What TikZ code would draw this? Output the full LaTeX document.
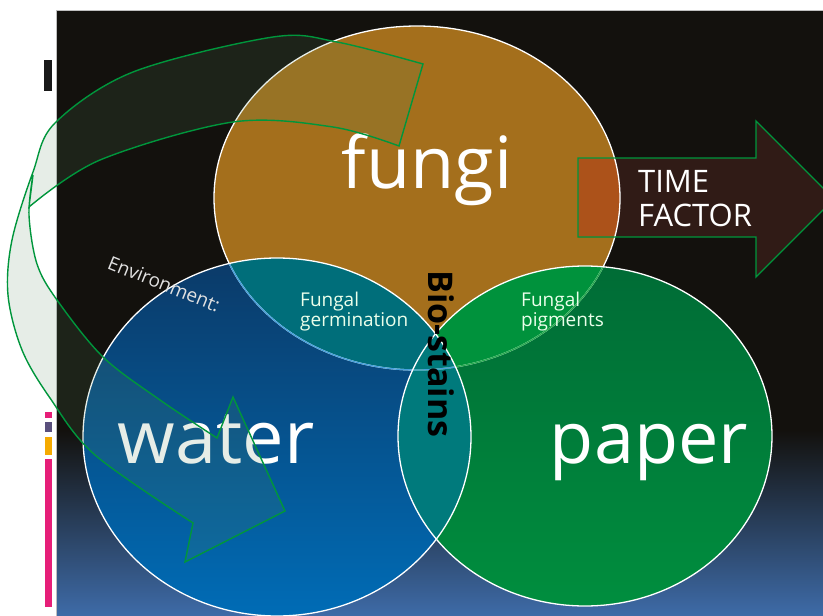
\documentclass[tikz,border=0pt]{standalone}
\usepackage{fontspec}
\setmainfont{Open Sans}
\usetikzlibrary{positioning}
\definecolor{bgdark}{RGB}{19,17,13}
\definecolor{bgblue}{RGB}{62,107,168}
\definecolor{fungicol}{RGB}{164,111,28}
\definecolor{watertop}{RGB}{11,58,104}
\definecolor{waterbot}{RGB}{0,108,182}
\definecolor{papertop}{RGB}{0,108,54}
\definecolor{paperbot}{RGB}{0,142,62}
\definecolor{fwcol}{RGB}{0,110,122}
\definecolor{fpcol}{RGB}{0,146,60}
\definecolor{wpcol}{RGB}{0,122,124}
\definecolor{fwline}{RGB}{70,160,220}
\definecolor{fpline}{RGB}{40,170,80}
\definecolor{arrgreen}{RGB}{0,150,60}
\definecolor{bandcol}{RGB}{90,140,95}
\definecolor{timebrown}{RGB}{48,27,22}
\definecolor{timeorange}{RGB}{172,82,26}
\definecolor{barpink}{RGB}{230,30,120}
\definecolor{barpurple}{RGB}{90,80,125}
\definecolor{barorange}{RGB}{245,170,0}
\definecolor{envgray}{RGB}{225,225,225}

\begin{document}
\begin{tikzpicture}[x=1pt, y=-1pt,
    big/.style={text=white, inner sep=0pt, font=\fontsize{72}{72}\selectfont},
    lbl/.style={text=white!92!green, inner sep=0pt, align=left, font=\fontsize{19}{19.5}\selectfont},
    ring/.style={draw=white, line width=1.3pt},
    gline/.style={draw=arrgreen, line width=1.4pt, line join=miter},
    band/.style={gline, fill=bandcol, fill opacity=0.15}
]
    \useasboundingbox (0,0) rectangle (823,616);
    \clip (0,0) rectangle (823,616);
    \fill[white] (0,0) rectangle (823,616);
    \fill[bgdark] (56,10) rectangle (823,616);
    \shade[top color=bgdark, bottom color=bgblue] (56,430) rectangle (823,616);
    \draw[gray!50, line width=0.6pt] (56,616) -- (56,10) -- (823,10);

    \fill[black!90] (44,60) rectangle (52,91);
    \fill[barpink] (45,412) rectangle (52,418);
    \fill[barpurple] (45,422) rectangle (52,432);
    \fill[barorange] (45,437) rectangle (52,455);
    \fill[barpink] (45,459) rectangle (52,607);

    \fill[fungicol] (417,198) ellipse [x radius=203pt, y radius=172pt];
    \shade[top color=watertop, bottom color=waterbot] (277,437) ellipse [x radius=194pt, y radius=179pt];
    \shade[top color=papertop, bottom color=paperbot] (585,436) ellipse [x radius=187pt, y radius=170pt];
    \begin{scope}
        \clip (417,198) ellipse [x radius=203pt, y radius=172pt];
        \fill[fwcol] (277,437) ellipse [x radius=194pt, y radius=179pt];
        \fill[fpcol] (585,436) ellipse [x radius=187pt, y radius=170pt];
    \end{scope}
    \begin{scope}
        \clip (277,437) ellipse [x radius=194pt, y radius=179pt];
        \fill[wpcol] (585,436) ellipse [x radius=187pt, y radius=170pt];
    \end{scope}

    \fill[timebrown] (578,158) -- (756,158) -- (756,121) -- (834,199) -- (756,277) -- (756,237) -- (578,237) -- cycle;
    \begin{scope}
        \clip (417,198) ellipse [x radius=203pt, y radius=172pt];
        \fill[timeorange] (578,158) rectangle (756,237);
    \end{scope}

    \draw[ring] (417,198) ellipse [x radius=203pt, y radius=172pt];
    \begin{scope}
        \clip (585,436) ellipse [x radius=187pt, y radius=170pt];
        \draw[ring, draw=fpline] (417,198) ellipse [x radius=203pt, y radius=172pt];
    \end{scope}
    \begin{scope}
        \clip (277,437) ellipse [x radius=194pt, y radius=179pt];
        \draw[ring, draw=fwline] (417,198) ellipse [x radius=203pt, y radius=172pt];
    \end{scope}
    \draw[ring] (277,437) ellipse [x radius=194pt, y radius=179pt];
    \draw[ring] (585,436) ellipse [x radius=187pt, y radius=170pt];

    \draw[gline] (578,158) -- (756,158) -- (756,121) -- (834,199) -- (756,277) -- (756,237) -- (578,237) -- cycle;

    \node[big, anchor=base] (fungi) at (427,188) {fungi};
    \node[big, anchor=base, font=\fontsize{74}{74}\selectfont] (water) at (216,463) {water};
    \node[big, anchor=base] (paper) at (649,463) {paper};
    \node[lbl, anchor=north west] (germ) at (300,292) {Fungal\\germination};
    \node[lbl, anchor=north west] (pigm) at (521,292) {Fungal\\pigments};
    \node[lbl, rotate=-22, text=envgray] (env) at (164,284) {Environment:};
    \node[rotate=-90, inner sep=0pt, font=\fontsize{34}{34}\selectfont\bfseries] (bio) at (441,354) {Bio-stains};
    \node[anchor=north west, inner sep=0pt, align=left, text=white, font=\fontsize{31}{34}\selectfont] (time) at (638,170) {TIME\\FACTOR};

    \draw[band] plot[smooth, tension=0.55] coordinates {(423,64) (337,42) (273,37) (133,72) (55,123) (33,172) (12,240) (8,295) (22,350) (50,398) (95,455) (193,523)}
        -- (185,562) -- (285,511) -- (233,397) -- (217,438)
        -- plot[smooth, tension=0.55] coordinates {(217,438) (160,400) (103,357) (57,300) (37,264) (29,215) (33,175)}
        -- (29,207)
        -- plot[smooth, tension=0.55] coordinates {(29,207) (100,160) (233,122) (333,127) (399,146)}
        -- cycle;
\end{tikzpicture}
\end{document}
